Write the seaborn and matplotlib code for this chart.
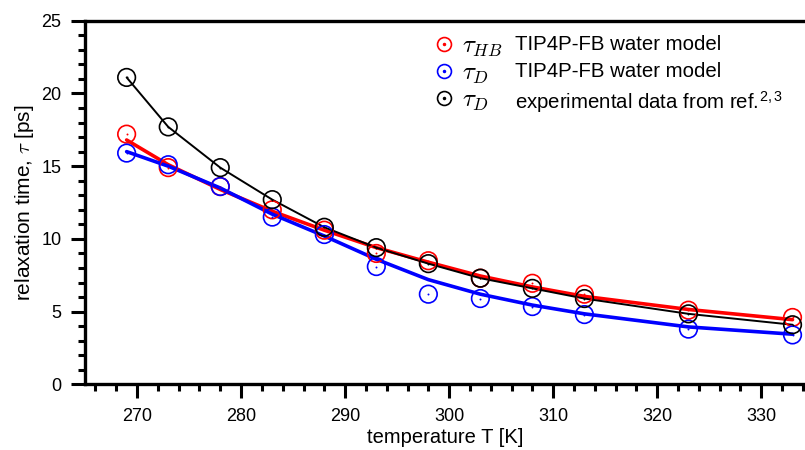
import matplotlib
matplotlib.use("Agg")
import matplotlib.pyplot as plt
import seaborn as sns
from matplotlib.lines import Line2D
from matplotlib.legend_handler import HandlerTuple
from matplotlib.ticker import MultipleLocator

# Temperatures (K)
temps = [269, 273, 278, 283, 288, 293, 298, 303, 308, 313, 323, 333]

# tau_HB, TIP4P-FB (red)
tau_hb_pts = [17.2, 14.9, 13.6, 12.0, 10.6, 9.0, 8.5, 7.3, 6.95, 6.2, 5.1, 4.6]
tau_hb_fit = [16.8, 15.1, 13.4, 11.9, 10.6, 9.4, 8.4, 7.45, 6.7, 6.05, 5.15, 4.45]

# tau_D, TIP4P-FB (blue)
tau_d_pts = [15.9, 15.1, 13.6, 11.5, 10.3, 8.1, 6.2, 5.9, 5.35, 4.8, 3.8, 3.4]
tau_d_fit = [16.0, 15.0, 13.5, 11.7, 10.2, 8.6, 7.2, 6.2, 5.45, 4.85, 3.95, 3.45]

# tau_D, experiment (black)
tau_exp_pts = [21.1, 17.7, 14.9, 12.7, 10.8, 9.4, 8.3, 7.3, 6.6, 5.9, 4.85, 4.1]

# legend text
symbols = [r"$\tau_{HB}$", r"$\tau_D$", r"$\tau_D$"]
descriptions = ["TIP4P-FB water model", "TIP4P-FB water model",
                r"experimental data from ref.$^{\mathregular{2,3}}$"]

sns.set_style("ticks", {"axes.edgecolor": "black", "xtick.color": "black",
                        "ytick.color": "black", "text.color": "black",
                        "axes.labelcolor": "black"})
plt.rcParams['font.family'] = ['Liberation Sans', 'DejaVu Sans']
plt.rcParams['mathtext.fontset'] = 'cm'

fig = plt.figure(figsize=(8.05, 4.5), dpi=100)
ax = fig.add_axes([0.1056, 0.1458, 0.8944, 0.8082])

series = [
    ("red", tau_hb_pts, tau_hb_fit, 2.6),
    ("blue", tau_d_pts, tau_d_fit, 2.6),
    ("black", tau_exp_pts, tau_exp_pts, 1.4),
]

handles = []
for color, pts, fit, lw in series:
    sns.lineplot(x=temps, y=fit, color=color, linewidth=lw, ax=ax, sort=False)
    sns.scatterplot(x=temps, y=pts, marker="o", s=160, facecolor="none",
                    edgecolor=color, linewidth=1.2, ax=ax, zorder=3)
    sns.scatterplot(x=temps, y=pts, marker="o", s=2, color=color,
                    linewidth=0, ax=ax, zorder=3)
    ring = Line2D([], [], marker="o", markersize=10, markerfacecolor="none",
                  markeredgecolor=color, markeredgewidth=1.2, linestyle="none")
    dot = Line2D([], [], marker="o", markersize=1.5, color=color, linestyle="none")
    handles.append((ring, dot))

# symbol column (markers + tau)
leg_sym = ax.legend(handles, symbols, frameon=False, fontsize=18,
                    handler_map={tuple: HandlerTuple(ndivide=1)},
                    handlelength=0.6, handletextpad=0.42, labelspacing=0.08,
                    loc="upper left", bbox_to_anchor=(0.4576, 1.026))
ax.add_artist(leg_sym)

# description column
blank = Line2D([], [], linestyle="none")
ax.legend([blank] * 3, descriptions, frameon=False, fontsize=14.7,
          handlelength=0, handletextpad=0, labelspacing=0.42,
          loc="upper left", bbox_to_anchor=(0.5717, 1.012))

ax.set_xlim(265, 334.2)
ax.set_ylim(0, 25)
ax.xaxis.set_major_locator(MultipleLocator(10))
ax.xaxis.set_minor_locator(MultipleLocator(2))
ax.yaxis.set_major_locator(MultipleLocator(5))
ax.yaxis.set_minor_locator(MultipleLocator(1))

for side in ["left", "bottom", "top"]:
    ax.spines[side].set_linewidth(2.4)
ax.spines["right"].set_visible(False)
ax.tick_params(which="major", direction="out", length=10, width=2.2,
               labelsize=13, pad=7, top=False, right=False)
ax.tick_params(which="minor", direction="out", length=5, width=2.2,
               top=False, right=False)

ax.set_xlabel("temperature T [K]", fontsize=14.5, labelpad=2.5)
ax.set_ylabel(r"relaxation time, $\tau$ [ps]", fontsize=15, labelpad=4)

fig.savefig("out.png", dpi=100)
